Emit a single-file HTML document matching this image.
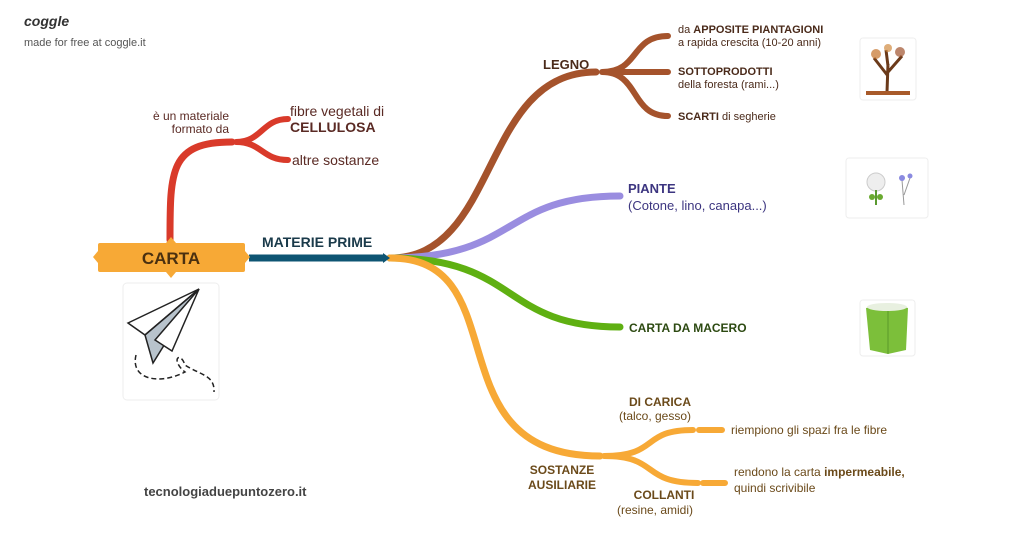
<!DOCTYPE html>
<html><head><meta charset="utf-8"><style>
html,body{margin:0;padding:0;background:#fff;width:1024px;height:539px;overflow:hidden}
svg{display:block}
text{font-family:"Liberation Sans",sans-serif}
</style></head><body>
<svg width="1024" height="539" viewBox="0 0 1024 539" xmlns="http://www.w3.org/2000/svg">
<text x="24" y="26" font-family="Liberation Serif" font-style="italic" font-size="14" font-weight="bold" fill="#333">coggle</text>
<text x="24" y="46" font-size="11" fill="#555">made for free at coggle.it</text>

<!-- red branch -->
<path d="M170 240 C170 170 170 142 232 142" stroke="#d93a2a" stroke-width="7" fill="none" stroke-linecap="round"/>
<path d="M236 142 C262 142 262 119 288 119 M236 142 C262 142 262 160 288 160" stroke="#d93a2a" stroke-width="6" fill="none" stroke-linecap="round"/>
<text x="229" y="120" font-size="12" fill="#5a2a24" text-anchor="end">è un materiale</text>
<text x="229" y="133" font-size="12" fill="#5a2a24" text-anchor="end">formato da</text>
<text x="290" y="116" font-size="14" fill="#5a2a24">fibre vegetali di</text>
<text x="290" y="132" font-size="14" font-weight="bold" fill="#5a2a24">CELLULOSA</text>
<text x="292" y="165" font-size="14" fill="#5a2a24">altre sostanze</text>

<!-- main branches -->
<path d="M390 258 C500 258 480 72 596 72" stroke="#a5532c" stroke-width="7" fill="none" stroke-linecap="round"/>
<path d="M602 72 C640 72 630 36 668 36 M602 72 L668 72 M602 72 C640 72 630 116 668 116" stroke="#a5532c" stroke-width="6" fill="none" stroke-linecap="round"/>
<path d="M390 258 C520 258 500 196 620 196" stroke="#9a8de0" stroke-width="7" fill="none" stroke-linecap="round"/>
<path d="M390 258 C520 258 500 327 620 327" stroke="#5fb012" stroke-width="7" fill="none" stroke-linecap="round"/>
<path d="M390 258 C520 258 430 456 600 456" stroke="#f7a936" stroke-width="7" fill="none" stroke-linecap="round"/>
<path d="M604 456 C660 456 640 430 693 430 M604 456 C660 456 640 483 698 483" stroke="#f7a936" stroke-width="6" fill="none" stroke-linecap="round"/>
<path d="M699 430 L722 430 M703 483 L725 483" stroke="#f7a936" stroke-width="6" fill="none" stroke-linecap="round"/>

<!-- blue -->
<path d="M249 258 L385 258" stroke="#0e5573" stroke-width="7"/>
<polygon points="383,253 390,258 383,263" fill="#0e5573"/>
<text x="262" y="247" font-size="14" font-weight="bold" fill="#1a3a4a">MATERIE PRIME</text>

<!-- CARTA -->
<rect x="98" y="243" width="147" height="29" rx="2" fill="#f7a936"/>
<polygon points="98,251 93,257 98,263" fill="#f7a936"/>
<polygon points="245,251 250,257 245,263" fill="#f7a936"/>
<polygon points="166,243 171,237 176,243" fill="#f7a936"/>
<polygon points="166,272 171,278 176,272" fill="#f7a936"/>
<text x="171" y="264" font-size="17" font-weight="bold" fill="#4a3010" text-anchor="middle">CARTA</text>

<!-- plane card -->
<rect x="123" y="283" width="96" height="117" rx="4" fill="#fff" stroke="#eee"/>
<polygon points="128,323 199,289 145,335" fill="#fff" stroke="#222" stroke-width="1.5"/>
<polygon points="145,335 199,289 153,363" fill="#b8c3cc" stroke="#222" stroke-width="1.5"/>
<polygon points="155,340 199,289 172,351" fill="#fff" stroke="#222" stroke-width="1.5"/>
<path d="M136 355 C130 380 160 385 185 372 C170 360 180 350 185 365 C200 375 215 375 214 392" stroke="#222" stroke-width="1.5" stroke-dasharray="5 3" fill="none"/>

<!-- legno texts -->
<text x="543" y="69" font-size="13" font-weight="bold" fill="#4a2a1a">LEGNO</text>
<text x="678" y="33" font-size="11" fill="#4a2a1a">da <tspan font-weight="bold">APPOSITE PIANTAGIONI</tspan></text>
<text x="678" y="46" font-size="11" fill="#4a2a1a">a rapida crescita (10-20 anni)</text>
<text x="678" y="75" font-size="11" font-weight="bold" fill="#4a2a1a">SOTTOPRODOTTI</text>
<text x="678" y="88" font-size="11" fill="#4a2a1a">della foresta (rami...)</text>
<text x="678" y="120" font-size="11" fill="#4a2a1a"><tspan font-weight="bold">SCARTI</tspan> di segherie</text>

<text x="628" y="193" font-size="13" font-weight="bold" fill="#3c3580">PIANTE</text>
<text x="628" y="210" font-size="13" fill="#3c3580">(Cotone, lino, canapa...)</text>
<text x="629" y="332" font-size="12" font-weight="bold" fill="#2d4a12">CARTA DA MACERO</text>

<!-- images -->
<rect x="860" y="38" width="56" height="62" rx="3" fill="#fff" stroke="#eee"/>
<path d="M887 92 L888 64 M888 76 L874 58 M888 72 L902 56 M888 66 L886 50" stroke="#6b3a1a" stroke-width="3" fill="none"/>
<circle cx="876" cy="54" r="5" fill="#c4722a" opacity=".7"/><circle cx="900" cy="52" r="5" fill="#a0522d" opacity=".7"/><circle cx="888" cy="48" r="4" fill="#d08a40" opacity=".7"/>
<rect x="866" y="91" width="44" height="4" fill="#a85a2a"/>
<rect x="846" y="158" width="82" height="60" rx="3" fill="#fff" stroke="#eee"/>
<circle cx="876" cy="182" r="9" fill="#eee" stroke="#ccc"/><path d="M876 190 L876 205" stroke="#5a9a30" stroke-width="2"/>
<circle cx="872" cy="197" r="3" fill="#6aaa30"/><circle cx="880" cy="197" r="3" fill="#6aaa30"/>
<path d="M904 205 L902 180 M904 195 L910 178" stroke="#999"/><circle cx="902" cy="178" r="3" fill="#8a8ae0"/><circle cx="910" cy="176" r="2.5" fill="#8a8ae0"/>
<rect x="860" y="300" width="55" height="56" rx="3" fill="#fff" stroke="#eee"/>
<path d="M866 308 L888 304 L908 308 L906 350 L888 354 L870 350 Z" fill="#7cbf3a"/>
<path d="M888 308 L888 354" stroke="#5a9a2a"/>
<ellipse cx="887" cy="307" rx="20" ry="4" fill="#e8f0e0"/>

<!-- sostanze texts -->
<text x="660" y="406" font-size="12" font-weight="bold" fill="#6b4a1a" text-anchor="middle">DI CARICA</text>
<text x="655" y="420" font-size="12" fill="#6b4a1a" text-anchor="middle">(talco, gesso)</text>
<text x="731" y="434" font-size="12" fill="#6b4a1a">riempiono gli spazi fra le fibre</text>
<text x="562" y="474" font-size="12" font-weight="bold" fill="#6b4a1a" text-anchor="middle">SOSTANZE</text>
<text x="562" y="489" font-size="12" font-weight="bold" fill="#6b4a1a" text-anchor="middle">AUSILIARIE</text>
<text x="664" y="499" font-size="12" font-weight="bold" fill="#6b4a1a" text-anchor="middle">COLLANTI</text>
<text x="655" y="514" font-size="12" fill="#6b4a1a" text-anchor="middle">(resine, amidi)</text>
<text x="734" y="476" font-size="12" fill="#6b4a1a">rendono la carta <tspan font-weight="bold">impermeabile,</tspan></text>
<text x="734" y="492" font-size="12" fill="#6b4a1a">quindi scrivibile</text>

<text x="144" y="496" font-size="13" font-weight="bold" fill="#444">tecnologiaduepuntozero.it</text>
</svg>
</body></html>
